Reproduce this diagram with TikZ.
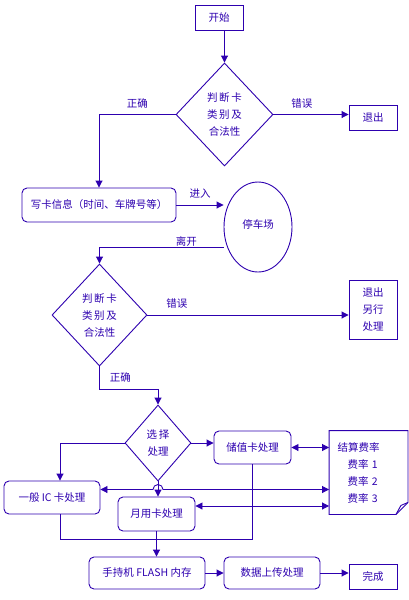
\documentclass[tikz,border=0pt]{standalone}
\usepackage{fontspec}
\setmainfont{Noto Sans CJK SC}
\usetikzlibrary{shapes.geometric,arrows.meta}
\definecolor{ink}{RGB}{45,0,175}

\begin{document}
\begin{tikzpicture}[x=1pt,y=-1pt,line width=0.9pt,ink,>={Triangle[length=7pt,width=7pt]},
	every node/.style={font=\fontsize{10.5pt}{17pt}\selectfont,text=ink,inner sep=0pt},
	sqbox/.style={draw,rectangle,align=center},
	rbox/.style={draw,rectangle,rounded corners=5pt,align=center},
	dia/.style={draw,diamond,align=center},
	lbl/.style={above=6pt}]
\useasboundingbox (0,0) rectangle (408,600);

\node[sqbox,minimum width=48pt,minimum height=25pt] (start) at (219,17.5) {开始};
\node[dia,minimum width=97pt,minimum height=103pt] (d1) at (224.5,114.5) {判\,断\,卡\\类\,别\,及\\合法性};
\node[sqbox,minimum width=48pt,minimum height=25pt] (exit1) at (373,117.5) {退出};
\node[rbox,minimum width=154pt,minimum height=34pt] (write) at (99,205) {写卡信息（时间、车牌号等）};
\node[draw,ellipse,minimum width=68pt,minimum height=90pt] (park) at (258,227) {\raisebox{6pt}{停车场}};
\node[dia,minimum width=95pt,minimum height=102pt] (d2) at (99.5,315) {判\,断\,卡\\类\,别\,及\\合法性};
\node[sqbox,minimum width=48pt,minimum height=59pt] (exit2) at (373,309.5) {退出\\另行\\处理};
\node[dia,minimum width=66pt,minimum height=76pt] (d3) at (158,443) {选\,择\\处理};
\node[rbox,minimum width=77pt,minimum height=33pt] (stored) at (252.5,447.5) {储值卡处理};
\node[align=left,text width=62pt,inner xsep=8pt,minimum height=83pt] (rate) at (368.5,472.5)
	{结算费率\\\hspace*{10pt}费率 1\\\hspace*{10pt}费率 2\\\hspace*{10pt}费率 3};
\node[rbox,minimum width=96pt,minimum height=33pt] (ic) at (52,497.5) {一般 IC 卡处理};
\node[rbox,minimum width=77pt,minimum height=34pt] (month) at (156.5,514) {月用卡处理};
\node[rbox,minimum width=116pt,minimum height=32pt] (flash) at (147,573) {手持机 FLASH 内存};
\node[rbox,minimum width=96pt,minimum height=32pt] (upload) at (272,573) {数据上传处理};
\node[sqbox,minimum width=48pt,minimum height=25pt] (done) at (373,576.5) {完成};

% folded sheet
\draw (rate.north west) -- (rate.north east) -- ([yshift=12pt]rate.south east)
	-- ([xshift=-12pt]rate.south east) -- (rate.south west) -- cycle;
\draw ([xshift=-12pt]rate.south east) .. controls ([xshift=-9pt,yshift=5pt]rate.south east)
	.. ([xshift=-7pt,yshift=9pt]rate.south east) -- ([yshift=12pt]rate.south east);

\draw[->] (start.south -| d1.north) -- (d1.north);
\draw[->] (d1.west) -| node[lbl,pos=0.25]{正确} (write.north);
\draw[->] (d1.east) -- node[lbl,pos=0.38]{错误} (d1.east -| exit1.west);
\draw[->] (write.east) -- node[lbl]{进入} (write.east -| park.west);
\draw[->] ([yshift=-20pt]park.west) -| node[above=0pt,pos=0.15]{离开} (d2.north);
\draw[->] (d2.east) -- node[lbl,pos=0.146]{错误} (d2.east -| exit2.west);
\draw[->] (d2.south) -- node[right=10pt]{正确} ++(0,23) -| (d3.north);

\draw[->] (d3.east) -- (d3.east -| stored.west);
\draw[->] (d3.west) -| ([xshift=8pt]ic.north);
\draw[<->] (stored.east) -- (stored.east -| rate.west);
\coordinate (ich) at ([yshift=8pt]ic.east);
\draw[<->] (ich -| rate.west) -- ([xshift=5pt]ich -| d3.south)
	arc[start angle=0,end angle=180,radius=5pt] -- (ich);
\draw[->] (d3.south) -- (d3.south |- month.north);
\coordinate (ym) at ([yshift=8pt]month.east);
\draw[<->] (ym -| rate.west) -- (ym);
\draw (stored.south) -- ++(0,75) -| ([xshift=8pt]ic.south);
\draw[->] (month.south) -- (month.south |- flash.north);
\draw[->] (flash.east) -- (upload.west);
\draw[->] (upload.east) -- (upload.east -| done.west);
\end{tikzpicture}
\end{document}
